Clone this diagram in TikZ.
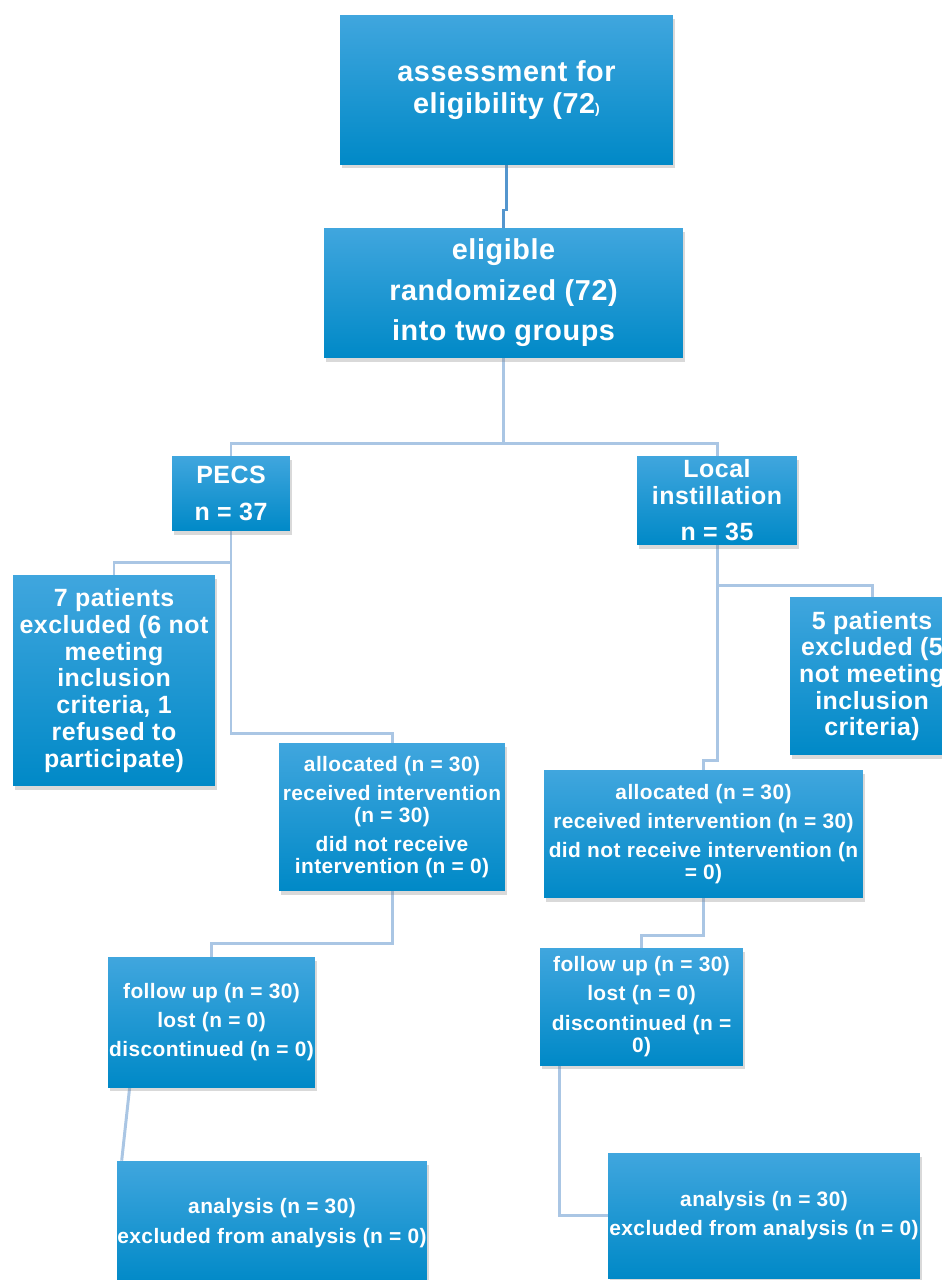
\documentclass[tikz,border=0pt]{standalone}
\usepackage{fontspec}
\setmainfont{Liberation Sans}[LetterSpace=2]
\usetikzlibrary{shadows,backgrounds,calc}

\definecolor{boxtop}{RGB}{64,166,222}
\definecolor{boxmid}{RGB}{10,158,221}
\definecolor{boxbot}{RGB}{0,137,199}
\definecolor{linkblue}{RGB}{84,150,206}
\definecolor{linkpale}{RGB}{170,198,228}

\tikzset{
  blk/.style={rectangle, inner sep=0pt, align=center, text=white,
    top color=boxtop, middle color=boxmid, bottom color=boxbot,
    drop shadow={shadow xshift=1.2pt, shadow yshift=-2pt, opacity=0.3}},
  bigtxt/.style={font=\bfseries\fontsize{16.4}{23}\selectfont},
  midtxt/.style={font=\bfseries\fontsize{14.2}{15.2}\selectfont},
  smalltxt/.style={font=\bfseries\fontsize{11.9}{12.6}\selectfont},
  link/.style={draw=linkpale, line width=1.7pt}
}

\begin{document}
\begin{tikzpicture}[x=0.02cm, y=-0.02cm]
  \useasboundingbox (0,0) rectangle (942,1280);

  % top of the chart
  \node[blk, bigtxt, minimum width=6.66cm, minimum height=3cm] (assess) at (506.5,90)
    {assessment for\\[-5pt] eligibility (72{\fontsize{8}{8}\selectfont )}};
  \node[blk, bigtxt, minimum width=7.18cm, minimum height=2.6cm] (elig) at (503.5,293)
    {eligible\\ randomized (72)\\ into two groups};

  % the two groups
  \node[blk, midtxt, minimum width=2.36cm, minimum height=1.5cm] (pecs) at (231,493.5)
    {PECS\\[5.5pt] n = 37};
  \node[blk, midtxt, minimum width=3.2cm, minimum height=1.78cm] (local) at (717,500.5)
    {Local\\ instillation\\[5.5pt] n = 35};

  % exclusions
  \node[blk, midtxt, minimum width=4.04cm, minimum height=4.22cm] (exclL) at (114,680.5)
    {7 patients\\ excluded (6 not\\ meeting\\ inclusion\\ criteria, 1\\ refused to\\ participate)};
  \node[blk, midtxt, minimum width=3.28cm, minimum height=3.16cm] (exclR) at (872,676)
    {5 patients\\ excluded (5\\ not meeting\\ inclusion\\ criteria)};

  % allocation
  \node[blk, smalltxt, minimum width=4.52cm, minimum height=2.96cm] (allocL) at (392,817)
    {allocated (n = 30)\\[4pt] received intervention\\ (n = 30)\\[4pt] did not receive\\ intervention (n = 0)};
  \node[blk, smalltxt, minimum width=6.38cm, minimum height=2.56cm] (allocR) at (703.5,834)
    {allocated (n = 30)\\[4pt] received intervention (n = 30)\\[4pt] did not receive intervention (n\\ = 0)};

  % follow up
  \node[blk, smalltxt, minimum width=4.14cm, minimum height=2.6cm] (followL) at (211.5,1022)
    {follow up (n = 30)\\[4pt] lost (n = 0)\\[4pt] discontinued (n = 0)};
  \node[blk, smalltxt, minimum width=4.06cm, minimum height=2.34cm] (followR) at (641.5,1006.5)
    {follow up (n = 30)\\[4pt] lost (n = 0)\\[4pt] discontinued (n =\\ 0)};

  % analysis
  \node[blk, smalltxt, minimum width=6.2cm, minimum height=2.48cm] (anaL) at (272,1223)
    {analysis (n = 30)\\[4pt] excluded from analysis (n = 0)};
  \node[blk, smalltxt, minimum width=6.24cm, minimum height=2.5cm] (anaR) at (764,1215.5)
    {analysis (n = 30)\\[4pt] excluded from analysis (n = 0)};

  % connectors behind the boxes
  \begin{pgfonlayer}{background}
    \draw[draw=linkblue, line width=1.3pt] (assess.south) -- ++(0,45) -| (elig.north);
    \draw[link] (elig.south) -- ++(0,85) coordinate (split);
    \draw[link] (pecs.north) |- (split) -| (local.north);
    \draw[link] (pecs.south) -- ++(0,31) -| (exclL.north);
    \draw[link] (pecs.south) -- ++(0,202) -| (allocL.north);
    \draw[link] (allocL.south) -- ++(0,52) -| (followL.north);
    \draw[link] ($(followL.south west)+(22,0)$) -- ($(anaL.north west)+(5,0)$);
    \draw[link] (local.south) -- ++(0,40) -| (exclR.north);
    \draw[link] (local.south) -- ++(0,215) -| (allocR.north);
    \draw[link] (allocR.south) -- ++(0,37) -| (followR.north);
    \draw[link] ($(followR.south west)+(20,0)$) |- (anaR.west);
  \end{pgfonlayer}
\end{tikzpicture}
\end{document}
